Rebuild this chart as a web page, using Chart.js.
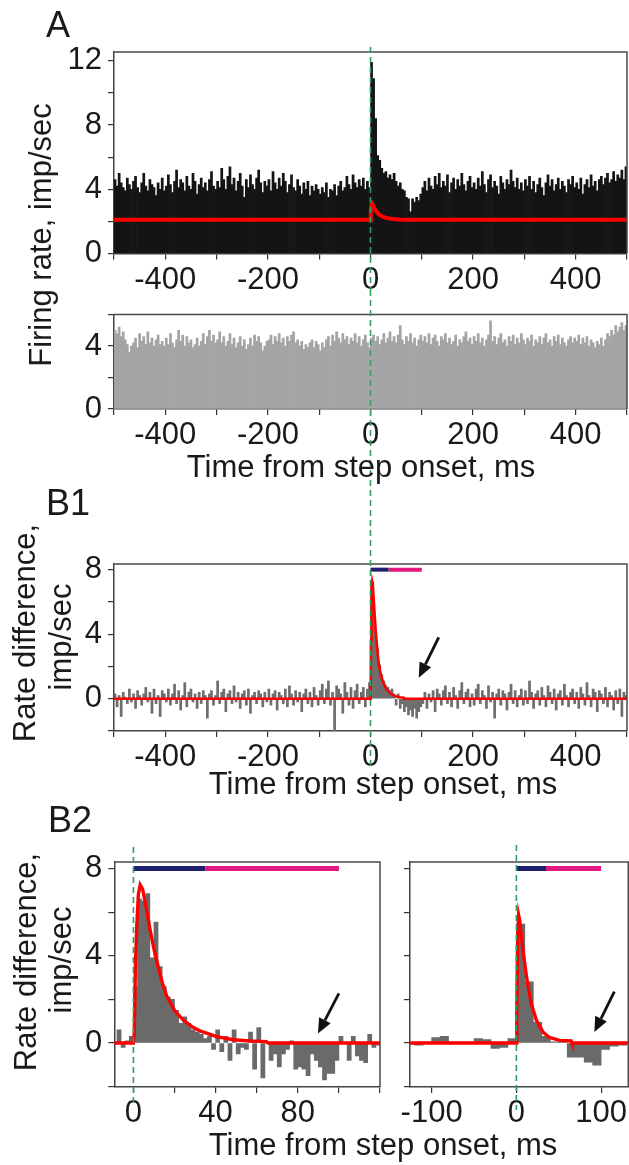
<!DOCTYPE html>
<html>
<head>
<meta charset="utf-8">
<script src="https://cdn.jsdelivr.net/npm/chart.js@4.4.1/dist/chart.umd.min.js"></script>
<style>
  body { margin: 0; background: #fff; width: 629px; height: 1165px; position: relative; overflow: hidden;
         font-family: "Liberation Sans", Arial, sans-serif; color: #1a1a1a; }
  canvas { position: absolute; }
  .t { position: absolute; white-space: nowrap; font-size: 31px; line-height: 31px; }
  .c { transform: translateX(-50%); }
  .r { transform: translate(-50%, -50%) rotate(-90deg); }
  .p { position: absolute; font-size: 36px; line-height: 36px; }
</style>
</head>
<body>
<canvas id="cA1" width="629" height="290" style="left:0;top:0"></canvas>
<canvas id="cA2" width="629" height="190" style="left:0;top:290px"></canvas>
<canvas id="cB1" width="629" height="320" style="left:0;top:480px"></canvas>
<canvas id="cB2L" width="395" height="365" style="left:0;top:800px"></canvas>
<canvas id="cB2R" width="234" height="365" style="left:395px;top:800px"></canvas>

<div class="p" style="left:46px;top:7px">A</div>
<div class="p" style="left:46px;top:485px">B1</div>
<div class="p" style="left:48px;top:802px">B2</div>

<div class="t r" style="left:40px;top:235px">Firing rate, imp/sec</div>
<div class="t c" style="left:361px;top:451px">Time from step onset, ms</div>
<div class="t r" style="left:24px;top:633px">Rate difference,</div>
<div class="t r" style="left:60px;top:637px">imp/sec</div>
<div class="t c" style="left:383px;top:768px">Time from step onset, ms</div>
<div class="t r" style="left:25px;top:962px">Rate difference,</div>
<div class="t r" style="left:60px;top:960px">imp/sec</div>
<div class="t c" style="left:383px;top:1129px">Time from step onset, ms</div>

<script>
// ---- data ----
// panel A, 4 ms bins from -500 ms
const binA = 4;
const startA = -500;
const rateStep = [
  4.6, 4.2, 5.0, 4.4, 4.1, 3.9, 4.7, 4.3, 4.0, 4.5, 4.8, 4.1, 3.8, 4.4, 5.0, 4.2, 3.9, 4.6, 4.3, 4.1, 3.6, 4.4, 4.0, 4.7, 3.9,
  4.2, 4.9, 4.3, 3.8, 4.5, 5.2, 4.1, 4.6, 4.4, 3.9, 4.8, 4.2, 4.0, 5.0, 4.5, 3.7, 4.3, 4.7, 4.1, 4.4, 3.9, 4.6, 5.1, 4.2, 4.0,
  4.5, 4.1, 5.3, 4.6, 4.0, 4.8, 5.4, 4.3, 4.7, 3.9, 4.5, 5.0, 4.2, 3.5, 4.6, 4.1, 4.9, 4.3, 4.0, 4.7, 5.2, 4.4, 3.8, 4.5, 4.2,
  4.6, 3.9, 5.1, 4.4, 4.0, 4.7, 4.2, 5.0, 4.5, 3.8, 4.3, 4.9, 4.1, 3.9, 4.6, 4.2, 3.7, 4.4, 4.0, 4.5, 3.6, 4.2, 3.9, 4.3, 4.0,
  3.7, 4.1, 3.8, 4.4, 3.5, 4.0, 3.9, 4.3, 3.6, 4.2, 4.5, 3.9, 4.1, 4.8, 4.3, 4.0, 4.9, 4.4, 4.1, 4.6, 4.2, 4.7, 4.0, 4.5, 4.1,
  11.9, 10.9, 8.4, 6.1, 5.8, 5.3, 5.0, 5.1, 4.7, 4.9, 4.6, 5.0, 4.5, 4.2, 4.4, 4.0, 3.9, 3.5, 3.4, 2.6, 3.4, 3.2, 3.5, 3.3, 3.7,
  4.1, 4.5, 3.9, 4.7, 4.2, 4.0, 4.8, 4.3, 5.0, 4.1, 4.5, 4.2, 4.9, 3.8, 4.4, 4.7, 4.0, 4.6, 4.2, 5.0, 4.3, 3.9, 4.5, 4.8, 4.1,
  4.4, 4.0, 4.7, 4.2, 5.1, 4.3, 3.8, 4.6, 4.9, 4.1, 4.5, 4.2, 3.7, 4.8, 4.4, 4.0, 4.6, 4.3, 5.2, 4.5, 4.1, 4.7, 4.0, 4.4, 3.9,
  4.6, 4.2, 4.8, 4.0, 4.5, 3.8, 4.3, 4.7, 4.1, 3.6, 4.4, 4.9, 4.2, 4.6, 3.9, 4.3, 4.7, 4.0, 4.5, 4.2, 3.8, 4.6, 4.3, 4.8, 4.1,
  4.4, 4.0, 4.7, 3.7, 4.3, 4.6, 4.1, 4.9, 4.2, 4.5, 3.9, 4.6, 4.8, 4.3, 4.7, 5.0, 4.4, 4.6, 5.1, 4.5, 4.9, 4.7, 5.2, 4.6, 5.4
];
const rateControl = [
  5.0, 4.8, 5.2, 4.6, 4.9, 4.4, 4.1, 3.6, 4.0, 4.2, 4.5, 3.9, 4.8, 4.3, 4.6, 4.1, 4.9, 4.2, 4.5, 4.0, 4.4, 4.7, 4.1, 4.3, 4.0,
  4.5, 4.1, 4.8, 4.2, 3.9, 4.4, 5.0, 4.3, 4.7, 4.0, 4.6, 4.2, 4.4, 3.9, 4.1, 4.5, 4.0, 4.3, 4.8, 4.1, 4.6, 5.0, 4.3, 4.7, 4.2,
  4.4, 4.9, 4.2, 4.6, 4.0, 4.3, 4.8, 4.1, 4.5, 3.9, 4.2, 4.6, 4.0, 4.4, 3.8, 4.1, 4.5, 4.0, 4.7, 4.3, 4.6, 4.2, 3.7, 4.0, 4.3,
  4.4, 4.7, 4.1, 4.6, 4.3, 4.8, 4.2, 4.5, 4.0, 4.6, 4.3, 4.7, 4.9, 4.2, 4.4, 4.0, 4.3, 3.8, 4.1, 3.9, 4.2, 4.4, 3.9, 4.3, 4.1,
  3.7, 4.2, 3.9, 4.4, 4.6, 4.0, 4.7, 4.3, 4.9, 4.5, 4.2, 4.8, 4.4, 4.6, 4.1, 4.5, 4.3, 4.8, 4.2, 4.6, 4.0, 4.4, 4.7, 4.2, 3.9,
  4.5, 4.7, 4.3, 4.6, 4.1, 4.4, 4.8, 4.2, 4.5, 4.9, 4.3, 4.6, 4.2, 4.7, 5.3, 4.4, 4.1, 4.6, 4.3, 4.8, 4.2, 4.5, 4.0, 4.4, 4.7,
  4.3, 4.6, 4.2, 4.8, 4.1, 4.5, 4.7, 4.3, 4.0, 4.6, 4.4, 4.8, 4.2, 4.5, 4.1, 4.3, 4.7, 4.0, 4.4, 4.2, 4.6, 4.9, 4.3, 4.5, 4.1,
  4.6, 4.3, 4.8, 4.2, 4.5, 4.0, 4.4, 4.7, 5.6, 4.3, 4.6, 4.1, 4.5, 4.8, 4.2, 4.4, 4.0, 4.6, 4.3, 4.7, 4.1, 4.5, 4.2, 4.8, 4.4,
  4.1, 4.5, 4.3, 4.7, 4.0, 4.4, 4.2, 4.6, 4.1, 4.5, 4.8, 4.2, 4.4, 4.0, 4.6, 4.3, 4.7, 4.1, 4.5, 4.2, 4.0, 4.4, 4.6, 4.2, 4.5,
  4.3, 4.7, 4.1, 4.5, 4.2, 4.6, 4.0, 4.4, 4.2, 3.9, 4.3, 4.1, 4.5, 4.0, 4.4, 4.8, 4.6, 5.0, 4.7, 5.3, 4.9, 5.2, 5.5, 5.0, 5.3
];
const fitA_x = [-500, 0, 0.5, 1.5, 3, 5, 8, 12, 16, 22, 30, 40, 55, 75, 500];
const fitA_y = [2.1, 2.1, 2.5, 2.95, 3.1, 3.0, 2.8, 2.6, 2.45, 2.32, 2.22, 2.16, 2.12, 2.1, 2.1];

// panel B1, 4 ms bins from -500 ms
const diffB1 = [
  0.3, -0.5, 0.2, -1.1, 0.4, 0.1, -0.3, 0.6, -0.2, 0.3, -0.6, 0.5, 0.2, -0.4, 0.3, 0.7, -0.2, 0.4, -0.9, 0.6, -0.3, 0.2, -1.1, 0.5, 0.3,
  -0.2, 0.6, -0.4, 0.3, 0.9, -0.3, 0.5, -0.7, 0.2, 1.0, -0.5, 0.4, 0.6, -0.2, 0.3, -0.6, 0.4, -0.3, 0.5, 0.2, -1.2, 0.3, 0.5, -0.4, 0.2,
  1.1, -0.3, 0.4, 0.6, -0.8, 0.3, 0.5, -0.3, 0.8, -0.2, 0.4, -0.6, 0.3, 0.5, -0.4, 0.6, -0.9, 0.2, 0.4, -0.3, 0.5, 0.3, -0.5, 0.4, -0.2,
  0.6, -0.4, 0.3, 0.5, -0.7, 0.4, 0.2, -0.3, 0.6, -0.5, 0.8, 0.3, -0.4, 0.5, -0.2, 0.4, -0.8, 0.3, 0.6, -0.3, 0.4, -0.5, 0.7, 0.2, -0.4,
  0.5, 0.9, -0.3, 0.6, 1.1, -0.4, 0.4, -2.0, 0.8, 0.6, 0.3, -0.9, 1.0, 0.4, -0.4, 0.7, -0.6, 0.5, 0.9, -0.3, 0.4, 0.7, -0.5, 0.6, 1.0,
  7.0, 5.9, 4.3, 3.1, 2.1, 1.5, 1.1, 0.8, 0.7, 0.5, 0.6, 0.3, -0.4, 0.3, -0.6, -0.3, -0.8, -0.5, -1.0, -0.7, -1.1, -0.6, -1.2, -0.8, -0.5,
  -0.3, 0.4, -0.6, 0.3, -0.2, 0.5, -0.8, 0.6, 0.3, -0.4, 0.5, 0.8, -0.3, 0.4, -0.5, 0.7, 0.2, -0.6, 0.5, 1.0, -0.3, 0.4, 0.6, -0.5, 0.3,
  -0.4, 0.6, 0.9, -0.3, 0.5, 0.2, -0.6, 0.8, -0.2, 0.4, -1.2, 0.3, 0.6, -0.4, 0.5, 0.3, -0.7, 0.4, 0.9, -0.3, 0.5, -0.5, 0.2, 0.6, -0.4,
  0.5, -0.3, 1.1, 0.4, -0.6, 0.3, 0.5, -0.4, 0.7, 0.2, -0.5, 0.8, 0.4, -0.3, 0.6, -0.7, 0.3, 0.5, -0.4, 0.9, 0.2, -0.5, 0.4, 0.6, -0.3,
  0.4, -0.6, 0.7, 0.3, -0.4, 1.0, 0.2, -0.5, 0.6, 0.4, -0.8, 0.5, 0.3, -0.3, 0.7, -0.5, 0.4, 0.2, -0.7, 0.5, -0.3, 0.6, -1.1, 0.4, 0.2
];
const fitB1_x = [-500, 0, 0.4, 1, 1.6, 2.4, 3.3, 4.5, 6.5, 8.1, 10, 12.2, 14.1, 16.2, 20.3, 24.3, 28.4, 32.4, 40.5, 48.6, 56.7, 64.8, 65.5, 500];
const fitB1_y = [0, 0, 0.4, 3.6, 5.3, 6.8, 7.25, 7.05, 6.05, 5.2, 4.3, 3.45, 2.75, 2.15, 1.45, 1.05, 0.75, 0.55, 0.29, 0.15, 0.09, 0.06, 0, 0];

// panel B2 left, 2 ms bins from -10 ms
const binB2L = 2;
const startB2L = -10;
const diffB2L = [
  0.0, 0.6, -0.2, 0.1, 0.3,
  2.6, 6.6, 6.5, 6.85, 3.9, 5.55, 3.5, 2.6, 2.1, 2.0, 1.5, 0.9, 1.2, 0.9, 0.6, 0.5, 0.4, 0.2, 0.3, -0.3,
  0.6, -0.4, 0.3, -0.8, 0.6, -0.5, -0.2, -0.3, 0.5, -1.2, 0.7, -1.6, 0.0, -0.8, -0.5, -1.1, -0.5, -0.3, 0.1, -1.2,
  -1.1, -1.2, -1.5, -0.5, -0.8, -1.1, -1.7, -1.4, -1.4, -0.8, 0.3, 0.0, -0.8, 0.3, -0.6, -0.8, -0.9, 0.4, -0.2, -0.1
];
const fitB2L_x = [-10, 0, 0.4, 1, 1.6, 2.4, 3.3, 4.5, 6.5, 8.1, 10, 12.2, 14.1, 16.2, 20.3, 24.3, 28.4, 32.4, 40.5, 48.6, 56.7, 64.8, 65.5, 120];
const fitB2L_y = [0, 0, 0.4, 3.6, 5.3, 6.8, 7.25, 7.05, 6.05, 5.2, 4.3, 3.45, 2.75, 2.15, 1.45, 1.05, 0.75, 0.55, 0.29, 0.15, 0.09, 0.06, 0, 0];

// panel B2 right, 10 ms bins from -130 ms
const binB2R = 10;
const startB2R = -130;
const diffB2R = [0, -0.1, 0, 0.25, 0.3, 0.02, 0, 0, 0.2, 0.15, -0.25, -0.2, 0.2,
  5.45, 2.8, 0.95, 0.3, 0.05, 0.03, -0.65, -0.65, -0.88, -1.02, -0.3, -0.15, -0.1];
const fitB2R_x = [-130, 0, 0.5, 1.5, 2.7, 4, 5.9, 7.8, 9.8, 11.8, 13.7, 17.6, 23.5, 31.4, 39, 51, 64.7, 65.5, 135];
const fitB2R_y = [0, 0, 1.5, 4.8, 5.85, 5.6, 4.9, 4.25, 3.66, 3.1, 2.6, 1.8, 1.05, 0.5, 0.25, 0.12, 0.09, 0, 0];

// response windows (ms) and arrow ends (ms, imp/sec)
const earlyWin = [0, 35];
const lateWin = [35, 100];
const arrowB1 = [[133, 3.8], [94, 1.3]];
const arrowB2L = [[100, 2.27], [89.8, 0.43]];
const arrowB2R = [[115.6, 2.35], [92, 0.5]];

// tick values
const xTicksLong = [-500, -400, -300, -200, -100, 0, 100, 200, 300, 400, 500];
const xLabelsLong = [-400, -200, 0, 200, 400];
const xTicksB2L = [0, 20, 40, 60, 80, 100, 120];
const xLabelsB2L = [0, 40, 80];
const xTicksB2R = [-100, 0, 100];
const yTicksA1 = [0, 2, 4, 6, 8, 10, 12];
const yLabelsA1 = [0, 4, 8, 12];
const yTicksA2 = [0, 2, 4, 6];
const yLabelsA2 = [0, 4];
const yTicksB = [-2, 0, 2, 4, 6, 8];
const yLabelsB = [0, 4, 8];

// ---- helpers ----
const tickFont = { family: "'Liberation Sans', Arial, sans-serif", size: 31 };

function xScale(min, max, tickVals, labelVals, height) {
  return {
    type: "linear", min: min, max: max, offset: false,
    afterBuildTicks: function (s) { s.ticks = tickVals.map(function (v) { return { value: v }; }); },
    afterFit: function (s) { s.height = height; },
    ticks: {
      autoSkip: false, maxRotation: 0, minRotation: 0, padding: 2, color: "#1a1a1a", font: tickFont,
      callback: function (v) { return labelVals.indexOf(v) >= 0 ? String(v) : ""; }
    },
    grid: { offset: false, drawOnChartArea: false, tickLength: 6, color: "#333", lineWidth: 1.2 },
    border: { color: "#444", width: 1.5 }
  };
}

function yScale(min, max, tickVals, labelVals, width) {
  return {
    type: "linear", min: min, max: max,
    afterBuildTicks: function (s) { s.ticks = tickVals.map(function (v) { return { value: v }; }); },
    afterFit: function (s) { s.width = width; },
    ticks: {
      autoSkip: false, padding: 6, color: "#1a1a1a", font: tickFont,
      callback: function (v) { return labelVals.indexOf(v) >= 0 ? String(v) : ""; }
    },
    grid: { drawOnChartArea: false, tickLength: 6, color: "#333", lineWidth: 1.2 },
    border: { color: "#444", width: 1.5 }
  };
}

function bars(start, width, values, color) {
  return {
    type: "bar",
    data: values.map(function (v, i) { return { x: start + width * (i + 0.5), y: v }; }),
    backgroundColor: color, borderWidth: 0, barPercentage: 1, categoryPercentage: 1, order: 3
  };
}

function fit(xs, ys, width) {
  return {
    type: "line",
    data: xs.map(function (x, i) { return { x: x, y: ys[i] }; }),
    borderColor: "#ff0000", borderWidth: width, pointRadius: 0, tension: 0, order: 1
  };
}

function windowBar(win, color, width) {
  return {
    type: "line",
    data: [{ x: win[0], y: 8 }, { x: win[1], y: 8 }],
    borderColor: color, borderWidth: width, borderCapStyle: "butt", pointRadius: 0, order: 0
  };
}

// box round the plot area
const framePlugin = {
  id: "frame",
  afterDraw: function (chart) {
    const a = chart.chartArea, ctx = chart.ctx;
    ctx.save();
    ctx.strokeStyle = "#4a4a4a";
    ctx.lineWidth = 1.5;
    ctx.beginPath();
    ctx.moveTo(a.left, a.top);
    ctx.lineTo(a.right, a.top);
    ctx.lineTo(a.right, a.bottom);
    ctx.stroke();
    ctx.restore();
  }
};

// dashed green line at step onset
const onsetPlugin = {
  id: "onset",
  afterDraw: function (chart, args, opts) {
    const ctx = chart.ctx;
    const x = chart.scales.x.getPixelForValue(0);
    ctx.save();
    ctx.strokeStyle = "#2f9f5f";
    ctx.lineWidth = 1.6;
    ctx.setLineDash([6, 4]);
    ctx.beginPath();
    ctx.moveTo(x, opts.from);
    ctx.lineTo(x, opts.to);
    ctx.stroke();
    ctx.restore();
  }
};

// black arrow pointing at the late dip
const arrowPlugin = {
  id: "arrow",
  afterDatasetsDraw: function (chart, args, opts) {
    if (!opts.ends) return;
    const sx = chart.scales.x, sy = chart.scales.y, ctx = chart.ctx;
    const x0 = sx.getPixelForValue(opts.ends[0][0]), y0 = sy.getPixelForValue(opts.ends[0][1]);
    const x1 = sx.getPixelForValue(opts.ends[1][0]), y1 = sy.getPixelForValue(opts.ends[1][1]);
    const ang = Math.atan2(y1 - y0, x1 - x0);
    const len = 15, half = 6.5;
    const bx = x1 - len * Math.cos(ang), by = y1 - len * Math.sin(ang);
    ctx.save();
    ctx.strokeStyle = "#111";
    ctx.fillStyle = "#111";
    ctx.lineWidth = 2.8;
    ctx.beginPath();
    ctx.moveTo(x0, y0);
    ctx.lineTo(bx, by);
    ctx.stroke();
    ctx.beginPath();
    ctx.moveTo(x1, y1);
    ctx.lineTo(bx + half * Math.sin(ang), by - half * Math.cos(ang));
    ctx.lineTo(bx - half * Math.sin(ang), by + half * Math.cos(ang));
    ctx.closePath();
    ctx.fill();
    ctx.restore();
  }
};

function panel(id, datasets, pad, xs, ys, onset, arrowEnds) {
  return new Chart(document.getElementById(id), {
    type: "bar",
    data: { datasets: datasets },
    options: {
      responsive: false, animation: false, devicePixelRatio: 1,
      layout: { padding: pad },
      plugins: {
        legend: { display: false },
        tooltip: { enabled: false },
        onset: onset,
        arrow: { ends: arrowEnds }
      },
      scales: { x: xs, y: ys }
    },
    plugins: [framePlugin, onsetPlugin, arrowPlugin]
  });
}

// ---- panels ----
panel("cA1",
  [bars(startA, binA, rateStep, "#141414"), fit(fitA_x, fitA_y, 4)],
  { left: 0, right: 0, top: 52, bottom: 0 },
  xScale(-500, 500, xTicksLong, xLabelsLong, 36.5),
  yScale(0, 12.55, yTicksA1, yLabelsA1, 114),
  { from: 47, to: 290 }, null);

panel("cA2",
  [bars(startA, binA, rateControl, "#a4a4a4")],
  { left: 0, right: 0, top: 22, bottom: 0 },
  xScale(-500, 500, xTicksLong, xLabelsLong, 71),
  yScale(0, 6, yTicksA2, yLabelsA2, 114),
  { from: 0, to: 190 }, null);

panel("cB1",
  [bars(startA, binA, diffB1, "#6e6e6e"), fit(fitB1_x, fitB1_y, 2.6),
   windowBar(earlyWin, "#1f1f6e", 4), windowBar(lateWin, "#e2177f", 4)],
  { left: 0, right: 0, top: 84, bottom: 0 },
  xScale(-500, 500, xTicksLong, xLabelsLong, 69),
  yScale(-2, 8.35, yTicksB, yLabelsB, 114),
  { from: 0, to: 290 }, arrowB1);

panel("cB2L",
  [bars(startB2L, binB2L, diffB2L, "#6a6a6a"), fit(fitB2L_x, fitB2L_y, 3.4),
   windowBar(earlyWin, "#1f1f6e", 5), windowBar(lateWin, "#e2177f", 5)],
  { left: 0, right: 15, top: 62, bottom: 0 },
  xScale(-9.3, 120, xTicksB2L, xLabelsB2L, 78),
  yScale(-2.02, 8.3, yTicksB, yLabelsB, 114.3),
  { from: 47, to: 307 }, arrowB2L);

panel("cB2R",
  [bars(startB2R, binB2R, diffB2R, "#6a6a6a"), fit(fitB2R_x, fitB2R_y, 3.4),
   windowBar(earlyWin, "#1f1f6e", 5), windowBar(lateWin, "#e2177f", 5)],
  { left: 0, right: 0, top: 62, bottom: 0 },
  xScale(-125.5, 132, xTicksB2R, xTicksB2R, 78),
  yScale(-2.02, 8.3, yTicksB, [], 15),
  { from: 45, to: 310 }, arrowB2R);
</script>
</body>
</html>
